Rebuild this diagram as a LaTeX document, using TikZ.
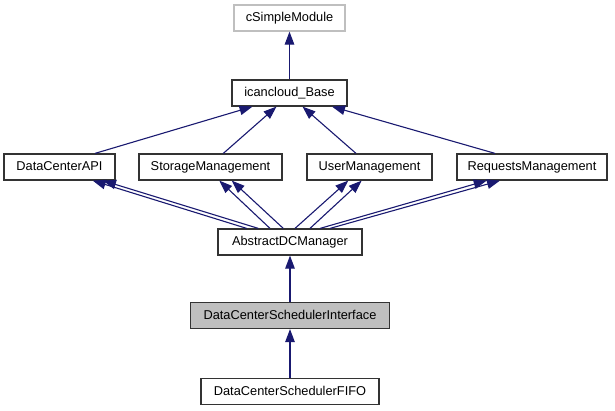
\documentclass[tikz,border=0pt]{standalone}
\usepackage{fontspec}
\setmainfont{Liberation Sans}
\usetikzlibrary{arrows.meta,calc}
\definecolor{edgeblue}{HTML}{191970}
\definecolor{boxgray}{HTML}{BFBFBF}
\begin{document}
\begin{tikzpicture}[x=1pt,y=-1pt,
  cls/.style={draw=black!80, line width=1.2pt, minimum height=26pt, inner sep=0pt,
    font=\fontsize{12.8}{15}\selectfont, text height=9.5pt, text depth=2.5pt},
  inh/.style={draw=edgeblue, line width=1.1pt, -{Triangle[length=13pt,width=9.5pt]}}]
\useasboundingbox (0,0) rectangle (615,411);
\node[cls, draw=boxgray, minimum width=111pt] (cs) at (289.5,18) {cSimpleModule};
\node[cls, minimum width=115pt] (base) at (289.5,93) {icancloud\_Base};
\node[cls, minimum width=111pt] (api) at (59.5,167) {DataCenterAPI};
\node[cls, minimum width=143pt] (stor) at (210.5,167) {StorageManagement};
\node[cls, minimum width=125pt] (user) at (369.5,167) {UserManagement};
\node[cls, minimum width=150pt] (req) at (532,167) {RequestsManagement};
\node[cls, minimum width=144pt] (abs) at (290,242) {AbstractDCManager};
\node[cls, fill=boxgray, minimum width=199pt] (iface) at (290,315.5) {DataCenterSchedulerInterface};
\node[cls, minimum width=178pt] (fifo) at (290,391.5) {DataCenterSchedulerFIFO};

\draw[inh] (base.north) -- (cs.south);
\draw[inh] ($(api.north)+(35.5,0)$) -- ($(base.south)+(-37,0)$);
\draw[inh] ($(stor.north)+(12.8,0)$) -- ($(base.south)+(-13,0)$);
\draw[inh] ($(user.north)+(-13.5,0)$) -- ($(base.south)+(13,0)$);
\draw[inh] ($(req.north)+(-37,0)$) -- ($(base.south)+(42.5,0)$);

\draw[inh] ($(abs.north)+(-43.3,0)$) -- ($(api.south)+(33.2,0)$);
\draw[inh] ($(abs.north)+(-31.7,0)$) -- ($(api.south)+(43.5,0)$);
\draw[inh] ($(abs.north)+(-20,0)$) -- ($(stor.south)+(8.8,0)$);
\draw[inh] ($(abs.north)+(-6.7,0)$) -- ($(stor.south)+(21.2,0)$);
\draw[inh] ($(abs.north)+(5,0)$) -- ($(user.south)+(-21.2,0)$);
\draw[inh] ($(abs.north)+(20,0)$) -- ($(user.south)+(-7.8,0)$);
\draw[inh] ($(abs.north)+(30,0)$) -- ($(req.south)+(-45.3,0)$);
\draw[inh] ($(abs.north)+(40,0)$) -- ($(req.south)+(-32,0)$);

\draw[inh] (iface.north) -- (abs.south);
\draw[inh] (fifo.north) -- (iface.south);
\end{tikzpicture}
\end{document}
